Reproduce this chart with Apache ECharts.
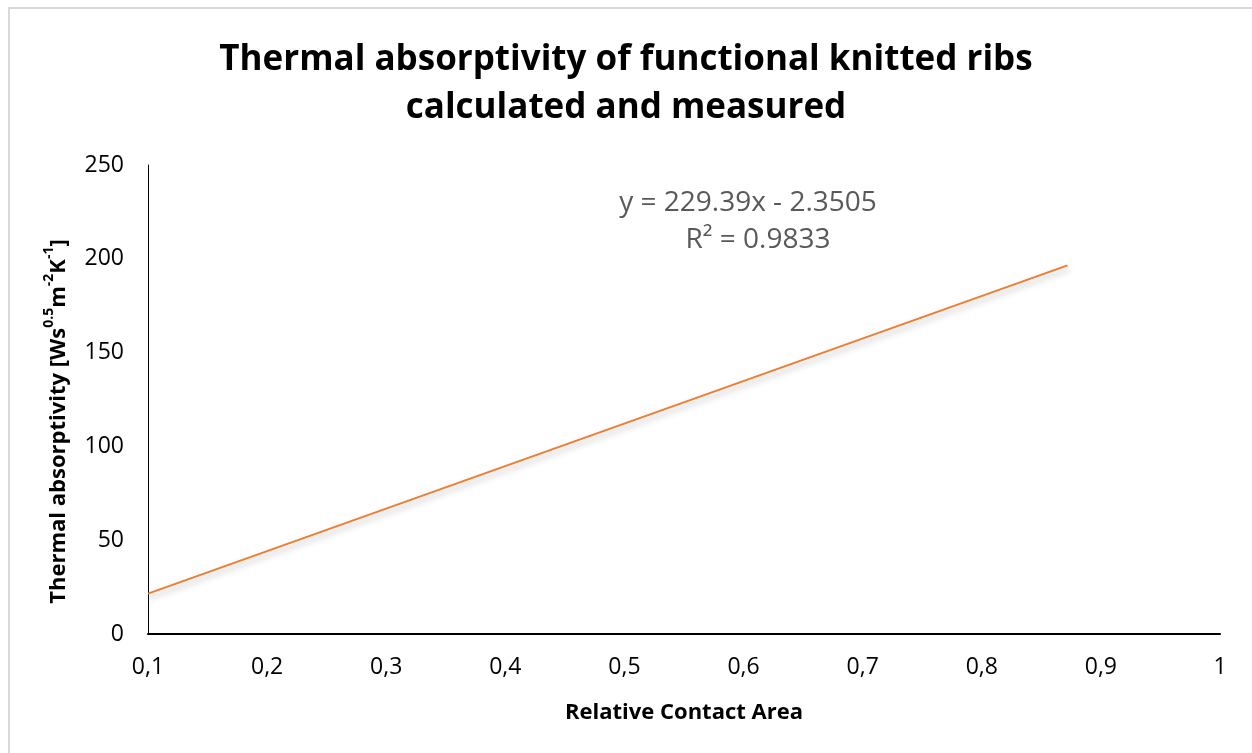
<!DOCTYPE html>
<html><head><meta charset="utf-8">
<script src="https://cdn.jsdelivr.net/npm/echarts@6/dist/echarts.min.js"></script>
<style>html,body{margin:0;padding:0;background:#fff}#c{width:1252px;height:753px}</style>
</head><body><div id="c"></div>
<script>
const titleLines = ['Thermal absorptivity of functional knitted ribs', 'calculated and measured'];
const xName = 'Relative Contact Area';
const xMin = 0.1, xMax = 1, xStep = 0.1;
const yMin = 0, yMax = 250, yStep = 50;
const lineX = [0.1, 0.872];
const lineY = [21.5, 196.5];
const equationText = ['y = 229.39x - 2.3505', 'R² = 0.9833'];

const chart = echarts.init(document.getElementById('c'), null, {renderer: 'canvas'});
const font = '"Open Sans", sans-serif';
chart.setOption({
  backgroundColor: '#fff',
  animation: false,
  title: {
    text: titleLines.join('\n'),
    left: 'center', top: 31,
    textStyle: {fontFamily: font, fontWeight: 'bold', fontSize: 35, lineHeight: 48, color: '#000'}
  },
  graphic: [
    {type: 'rect', shape: {x: 9, y: 8, width: 1260, height: 760}, style: {fill: 'none', stroke: '#d9d9d9', lineWidth: 2}, silent: true},
    {type: 'text', x: 748, y: 203, style: {text: equationText[0], fill: '#595959', font: '28px ' + font, align: 'center', verticalAlign: 'middle'}},
    {type: 'text', x: 758, y: 240, style: {text: equationText[1], fill: '#595959', font: '28px ' + font, align: 'center', verticalAlign: 'middle'}}
  ],
  grid: {left: 148, right: 32, top: 165, bottom: 119, containLabel: false},
  xAxis: {
    type: 'value', min: xMin, max: xMax, interval: xStep,
    name: xName, nameLocation: 'middle', nameGap: 68,
    nameTextStyle: {fontFamily: font, fontWeight: 'bold', fontSize: 22, color: '#000'},
    axisLine: {show: true, onZero: false, lineStyle: {color: '#000', width: 2}},
    axisTick: {show: false}, splitLine: {show: false},
    axisLabel: {
      fontFamily: font, fontSize: 23, color: '#000', margin: 22,
      formatter: v => { const r = Math.round(v * 10) / 10; return Number.isInteger(r) ? String(r) : r.toFixed(1).replace('.', ','); }
    }
  },
  yAxis: {
    type: 'value', min: yMin, max: yMax, interval: yStep,
    name: '{b|Thermal absorptivity [Ws}{s|0.5}{b|m}{s|-2}{b|K}{s|-1}{b|]}',
    nameLocation: 'middle', nameGap: 78, nameRotate: 90,
    nameTextStyle: {
      padding: [0, 44, 0, 0],
      rich: {
        b: {fontFamily: font, fontWeight: 'bold', fontSize: 22, color: '#000', lineHeight: 28, verticalAlign: 'bottom'},
        s: {fontFamily: font, fontWeight: 'bold', fontSize: 14, color: '#000', lineHeight: 28, verticalAlign: 'top'}
      }
    },
    axisLine: {show: true, lineStyle: {color: '#000', width: 1}},
    axisTick: {show: false}, splitLine: {show: false},
    axisLabel: {fontFamily: font, fontSize: 23, color: '#000', margin: 24}
  },
  series: [{
    type: 'line',
    data: lineX.map((x, i) => [x, lineY[i]]),
    symbol: 'none',
    lineStyle: {color: '#ED7D31', width: 2, shadowColor: 'rgba(0,0,0,0.3)', shadowBlur: 6, shadowOffsetY: 4, shadowOffsetX: 1}
  }]
});
</script></body></html>
